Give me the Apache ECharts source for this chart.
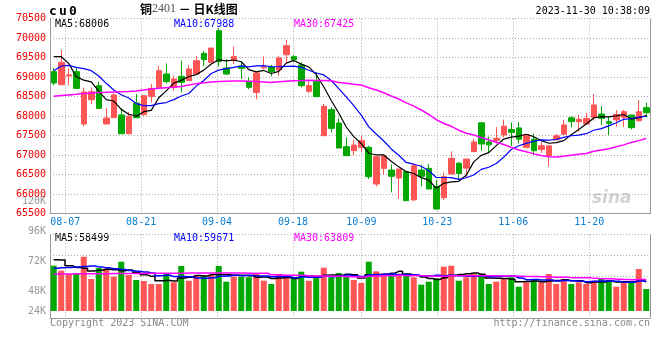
<!DOCTYPE html>
<html><head><meta charset="utf-8">
<script src="https://cdn.jsdelivr.net/npm/echarts@6/dist/echarts.min.js"></script>
<style>html,body{margin:0;padding:0;background:#fff}#c{width:660px;height:360px}</style>
</head><body><div id="c"></div>
<script>
// ---- data ----
const dates = ['08-03','08-04','08-07','08-08','08-09','08-10','08-11','08-14','08-15','08-16','08-17','08-18','08-21','08-22','08-23','08-24','08-25','08-28','08-29','08-30','08-31','09-01','09-04','09-05','09-06','09-07','09-08','09-11','09-12','09-13','09-14','09-15','09-18','09-19','09-20','09-21','09-22','09-25','09-26','09-27','09-28','10-09','10-10','10-11','10-12','10-13','10-16','10-17','10-18','10-19','10-20','10-23','10-24','10-25','10-26','10-27','10-30','10-31','11-01','11-02','11-03','11-06','11-07','11-08','11-09','11-10','11-13','11-14','11-15','11-16','11-17','11-20','11-21','11-22','11-23','11-24','11-27','11-28','11-29','11-30'];
const opens  = [69142,68808,69030,69142,67800,68424,68783,67800,67962,68031,67550,68335,68039,68509,68740,69082,68740,69022,68911,69082,69612,69381,70193,69236,69424,69270,68894,68610,69240,69253,69184,69578,69526,69313,68637,68894,67501,68167,67825,67219,67116,67201,67201,66261,66663,66620,66415,66577,65851,66620,66663,66201,65910,66518,66795,66668,67095,67830,67340,67380,67518,67660,67700,67200,67410,67146,66990,67394,67535,67958,67860,67800,67970,68056,67860,67903,67971,68030,67885,68219];
const closes = [68851,69381,69060,68714,68620,68629,68201,67954,68543,67550,68000,67960,68526,68714,69167,68885,68954,68868,69210,69424,69449,69748,69398,69082,69526,69227,68740,69110,69260,69142,69492,69808,69449,68783,68783,68501,68253,67689,67184,66988,67261,67372,66449,66962,66988,66458,66646,65834,66731,66458,66133,65620,66450,66919,66530,66902,67340,67287,67265,67432,67745,67586,67410,67518,67116,67244,67240,67497,67774,67860,67920,67940,68287,67945,67818,68047,68116,67706,68116,68090];
const lows   = [68790,68808,68790,68697,67735,68313,68190,67800,67962,67550,67550,67960,68014,68355,68740,68834,68654,68612,68911,69082,69295,69381,69270,69056,69338,68954,68697,68435,69210,69022,69039,69381,69381,68740,68595,68501,67501,67586,67184,66988,66988,67073,66389,66201,66500,66047,65877,65834,65834,66201,66133,65603,65850,66518,66385,66420,67073,67116,67080,67300,67458,67245,67300,67190,67000,67060,66706,67394,67535,67714,67600,67800,67885,67775,67518,67731,67731,67663,67860,67971];
const highs  = [69240,69700,69230,69253,68730,68740,68885,68210,68595,68201,68110,68569,68543,68825,69295,69355,69039,69424,69313,69552,69663,69748,70261,69466,69783,69398,68996,69125,69530,69313,69552,69954,69569,69381,68911,69125,68313,68227,67945,67458,67398,67501,67244,66962,66988,66757,66646,66577,66774,66757,66774,66364,66550,67100,66825,66902,67420,67850,67475,67720,67915,67840,67850,67543,67550,67347,67240,67550,67910,68000,68030,68090,68569,68260,67988,68159,68159,68030,68415,68347];
const volumes = [92400,82200,75500,75500,110800,65300,87800,87100,70000,100600,73500,63300,61200,55100,55100,76900,58600,91800,61800,73500,70800,73500,91800,59800,70000,70000,68800,75500,61800,55100,75500,73500,66700,80200,61800,68800,88400,68800,77600,70800,63300,57100,100600,81000,72000,75500,75500,73500,68800,53700,59800,66700,90400,92400,61800,68800,75500,75500,55100,59800,65300,68800,49600,58600,63900,58600,75500,55100,65300,55100,58600,55100,61800,65300,63300,49600,58600,58600,85700,44900];
// moving-average values at the left edge (window reaches before the first visible day)
const ma5Lead  = [69526,69526,69355,69013];
const ma10Lead = [69167,69287,69304,69253,69219,69167,69031,68843,68672];
const ma30Lead = [68510,68530,68545,68560,68585,68595,68605,68612,68620,68628,68635,68645,68672,68695,68715,68730,68742,68760,68800,68835,68860,68880,68890,68895,68900,68900,68895,68890,68880];
const vma5Lead  = [104700,104000,92400,89000];
const vma10Lead = [87000,88000,89000,90000,91000,92000,90000,88000,86000];
const vma30Lead = [75500,75600,75700,75800,75900,76000,76100,76200,76300,76400,76500,76600,76700,76800,76900,77000,77100,77200,77300,77400,77500,77600,77600,77500,77400,77300,77200,77100,77000];
const xTickDates = ['08-07','08-21','09-04','09-18','10-09','10-23','11-06','11-20'];
const priceMin = 65500, priceMax = 70500, priceStep = 500;
const volGridMax = 96000, volGridStep = 24000;
const volTickLabels = ['120K','96K','72K','48K','24K'];
const header = {code:'cu0', title:'2401', time:'2023-11-30 10:38:09'};
const maLegend = {ma5:'MA5:68006', ma10:'MA10:67988', ma30:'MA30:67425'};
const vmaLegend = {ma5:'MA5:58499', ma10:'MA10:59671', ma30:'MA30:63809'};

function movingAvg(vals, n, lead){
  return vals.map((v,i)=>{
    if(i < n-1) return lead[i];
    let s=0; for(let k=i-n+1;k<=i;k++) s+=vals[k];
    return Math.round(s/n);
  });
}
const UP='#ff5555', DOWN='#00a800';
const MONO='"DejaVu Sans Mono", "Liberation Mono", monospace';
const candle = dates.map((d,i)=>[opens[i],closes[i],lows[i],highs[i]]);
const volData = volumes.map((v,i)=>({value:v, itemStyle:{color: closes[i]>=opens[i]?UP:DOWN}}));
const isTick = (idx,val)=> xTickDates.indexOf(dates[idx])>=0;
const dotted = {color:'#aaaaaa', type:[1,2], width:1};
const axisGray = {color:'#999999', width:1};
const volLabelY = [201, 231, 261, 291, 311];

const chart = echarts.init(document.getElementById('c'), null, {renderer:'canvas'});
const graphics = [
  {type:'text', left:49, top:5, style:{text:'{c|c}{c|u}{c|0}', rich:{c:{width:10, align:'left', font:'bold 13px '+MONO, fill:'#000'}}}},
  {type:'text', left:140, top:3, style:{text:'{a|铜}{b|'+header.title+'}{a| － 日K线图}', rich:{
    a:{font:'bold 12px "Noto Sans CJK SC"', fill:'#000'}, b:{font:'12px "Liberation Serif"', fill:'#555'}}}},
  {type:'text', right:10, top:6, style:{text:header.time, font:'10px '+MONO, fill:'#000'}},
  {type:'text', left:55, top:19, style:{text:maLegend.ma5, font:'10px '+MONO, fill:'#000'}},
  {type:'text', left:174, top:19, style:{text:maLegend.ma10, font:'10px '+MONO, fill:'#0000ff'}},
  {type:'text', left:294, top:19, style:{text:maLegend.ma30, font:'10px '+MONO, fill:'#ff00ff'}},
  {type:'text', left:55, top:233, style:{text:vmaLegend.ma5, font:'10px '+MONO, fill:'#000'}},
  {type:'text', left:174, top:233, style:{text:vmaLegend.ma10, font:'10px '+MONO, fill:'#0000ff'}},
  {type:'text', left:294, top:233, style:{text:vmaLegend.ma30, font:'10px '+MONO, fill:'#ff00ff'}},
  {type:'text', left:50, top:318, style:{text:'Copyright 2023 SINA.COM', font:'10px '+MONO, fill:'#888'}},
  {type:'text', right:10, top:318, style:{text:'http://finance.sina.com.cn', font:'10px '+MONO, fill:'#888'}},
  {type:'text', left:592, top:190, style:{text:'sina', font:'italic bold 17px "DejaVu Sans"', fill:'rgba(175,175,175,0.55)'}}
];
volTickLabels.forEach((t,i)=>graphics.push({type:'text', x:46, y:volLabelY[i],
  style:{text:t, font:'10px '+MONO, fill:'#999', align:'right', verticalAlign:'middle'}}));

chart.setOption({
  animation:false,
  backgroundColor:'#fff',
  grid:[
    {left:50, top:18.7, width:600, height:195},
    {left:50, top:234.3, width:600, height:83.7}
  ],
  xAxis:[
    {type:'category', gridIndex:0, data:dates, boundaryGap:true, show:false},
    {type:'category', gridIndex:0, data:dates, boundaryGap:false, position:'bottom',
      axisLine:{lineStyle:axisGray}, axisTick:{show:false},
      axisLabel:{interval:isTick, color:'#0a7fd2', fontFamily:MONO, fontSize:10, margin:4},
      splitLine:{show:true, interval:isTick, lineStyle:dotted}},
    {type:'category', gridIndex:1, data:dates, boundaryGap:true, show:false},
    {type:'category', gridIndex:1, data:dates, boundaryGap:false, position:'bottom',
      axisLine:{lineStyle:axisGray}, axisTick:{show:true, interval:isTick, length:3, lineStyle:dotted},
      axisLabel:{show:false},
      splitLine:{show:true, interval:isTick, lineStyle:dotted}}
  ],
  yAxis:[
    {type:'value', gridIndex:0, position:'left', min:priceMin, max:priceMax, interval:priceStep,
      axisLine:{show:true, lineStyle:axisGray}, axisTick:{show:false},
      axisLabel:{color:'#ee0000', fontFamily:MONO, fontSize:10, margin:4, padding:[0,0,5,0], formatter:v=>String(v)},
      splitLine:{show:true, lineStyle:dotted}},
    {type:'value', gridIndex:0, position:'right', min:priceMin, max:priceMax,
      axisLine:{show:true, lineStyle:axisGray}, axisTick:{show:false}, axisLabel:{show:false}, splitLine:{show:false}},
    {type:'value', gridIndex:1, position:'left', min:-14300, max:156500, show:false, splitLine:{show:false}},
    {type:'value', gridIndex:1, position:'left', min:0, max:volGridMax, interval:volGridStep,
      axisLine:{show:true, lineStyle:axisGray}, axisTick:{show:false}, axisLabel:{show:false},
      splitLine:{show:true, lineStyle:dotted}},
    {type:'value', gridIndex:1, position:'right', min:0, max:volGridMax,
      axisLine:{show:true, lineStyle:axisGray}, axisTick:{show:false}, axisLabel:{show:false}, splitLine:{show:false}}
  ],
  series:[
    {type:'candlestick', xAxisIndex:0, yAxisIndex:0, data:candle, barWidth:6,
      itemStyle:{color:UP, color0:DOWN, borderColor:UP, borderColor0:DOWN, borderWidth:1}},
    {type:'line', xAxisIndex:0, yAxisIndex:0, data:movingAvg(closes,5,ma5Lead), showSymbol:false, lineStyle:{color:'#000000', width:1.2}},
    {type:'line', xAxisIndex:0, yAxisIndex:0, data:movingAvg(closes,10,ma10Lead), showSymbol:false, lineStyle:{color:'#0000ff', width:1.2}},
    {type:'line', xAxisIndex:0, yAxisIndex:0, data:movingAvg(closes,30,ma30Lead), showSymbol:false, lineStyle:{color:'#ff00ff', width:1.5}},
    {type:'bar', xAxisIndex:2, yAxisIndex:2, data:volData, barWidth:6},
    {type:'line', xAxisIndex:2, yAxisIndex:2, data:movingAvg(volumes,5,vma5Lead), step:'middle', showSymbol:false, lineStyle:{color:'#000000', width:1.5}},
    {type:'line', xAxisIndex:2, yAxisIndex:2, data:movingAvg(volumes,10,vma10Lead), step:'middle', showSymbol:false, lineStyle:{color:'#0000ff', width:1.5}},
    {type:'line', xAxisIndex:2, yAxisIndex:2, data:movingAvg(volumes,30,vma30Lead), step:'middle', showSymbol:false, lineStyle:{color:'#ff00ff', width:1.5}}
  ],
  graphic:graphics
});
</script></body></html>
